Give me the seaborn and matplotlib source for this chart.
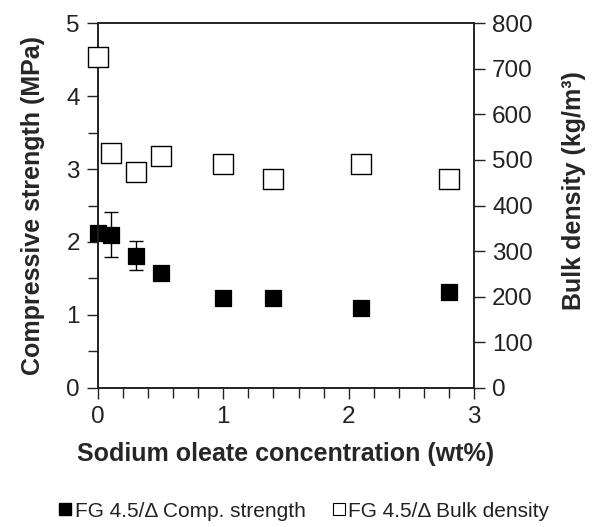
import matplotlib
matplotlib.use("Agg")
import matplotlib.pyplot as plt
import seaborn as sns
import pandas as pd
from matplotlib.ticker import MultipleLocator
from matplotlib.lines import Line2D

# data
conc = [0.0, 0.1, 0.3, 0.5, 1.0, 1.4, 2.1, 2.8]
strength = [2.12, 2.10, 1.81, 1.57, 1.23, 1.23, 1.10, 1.31]
strength_err = [0.05, 0.31, 0.20, 0.06, 0.05, 0.05, 0.05, 0.05]
density = [726, 515, 474, 509, 491, 458, 491, 458]

sns.set_style("ticks")
plt.rcParams['font.family'] = ['Liberation Sans', 'DejaVu Sans']

df = pd.DataFrame({"conc": conc, "strength": strength, "density": density})

fig = plt.figure(figsize=(5.94, 5.27), dpi=100)
ax = fig.add_axes([0.165, 0.264, 0.633, 0.692])
ax2 = ax.twinx()

# bulk density (open squares) on right axis
sns.scatterplot(data=df, x="conc", y="density", ax=ax2, marker="s", s=200,
                facecolor="white", edgecolor="black", linewidth=1.0, zorder=3, clip_on=False)

# compressive strength (filled) on left axis
ax.errorbar(conc, strength, yerr=strength_err, fmt="none", ecolor="black",
            elinewidth=1.0, capsize=5, zorder=2)
sns.scatterplot(data=df, x="conc", y="strength", ax=ax, marker="s", s=130,
                color="black", edgecolor="black", zorder=3, clip_on=False)

ax.set_xlim(0, 3)
ax.set_ylim(0, 5)
ax2.set_ylim(0, 800)
ax.xaxis.set_major_locator(MultipleLocator(1))
ax.xaxis.set_minor_locator(MultipleLocator(0.2))
ax.yaxis.set_major_locator(MultipleLocator(1))
ax.yaxis.set_minor_locator(MultipleLocator(0.5))
ax2.yaxis.set_major_locator(MultipleLocator(100))

ax.tick_params(axis="both", which="major", direction="out", length=8, width=1,
               labelsize=17.5, colors="#222222", pad=5)
ax.tick_params(axis="both", which="minor", direction="out", length=7, width=1, colors="#222222")
ax2.tick_params(axis="y", which="major", direction="out", length=8, width=1,
                labelsize=17.5, colors="#222222", pad=5)
for a in (ax, ax2):
    for sp in a.spines.values():
        sp.set_linewidth(1.2)
        sp.set_color("#222222")

ax.set_xlabel("Sodium oleate concentration (wt%)", fontsize=18, fontweight="bold", labelpad=10)
ax.set_ylabel("Compressive strength (MPa)", fontsize=18, fontweight="bold", labelpad=15)
ax2.set_ylabel("Bulk density (kg/m³)", fontsize=18, fontweight="bold")
ax2.yaxis.set_label_coords(1.234, 0.54)

handles = [
    Line2D([], [], marker="s", linestyle="none", color="black", markersize=8),
    Line2D([], [], marker="s", linestyle="none", markerfacecolor="white",
           markeredgecolor="black", markersize=8, markeredgewidth=0.8),
]
labels = ["FG 4.5/\u0394 Comp. strength", "FG 4.5/\u0394 Bulk density"]
fig.legend(handles, labels, loc="center", bbox_to_anchor=(0.51, 0.03), ncol=2,
           frameon=False, fontsize=15, handletextpad=0.05, columnspacing=1.2,
           handlelength=0.8, labelcolor="#222222")

fig.savefig("out.png", dpi=100)
